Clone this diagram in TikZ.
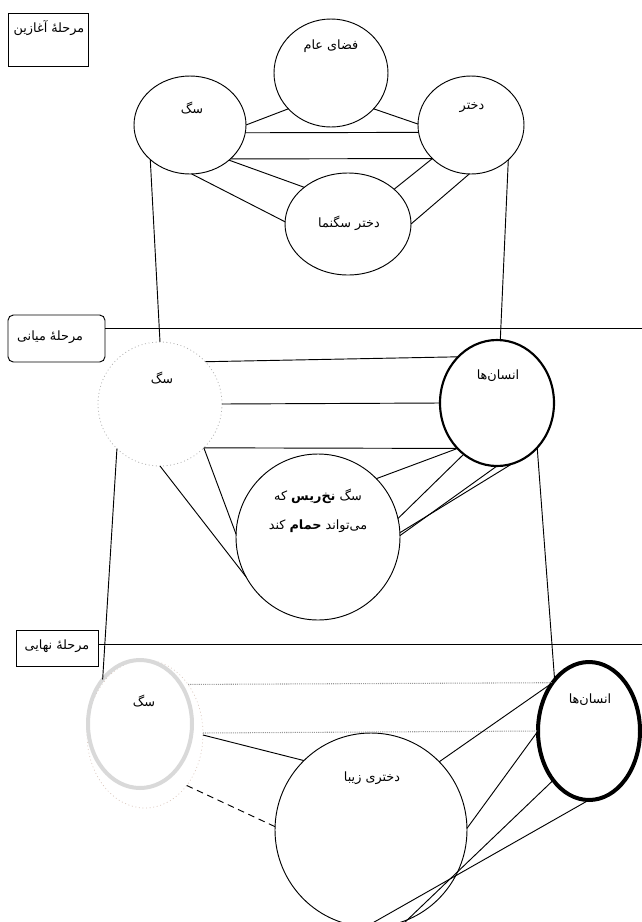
\documentclass[tikz,border=0pt]{standalone}
\usepackage{fontspec}
\usetikzlibrary{shapes.geometric}
\newfontfamily\arabicfont[Script=Arabic]{DejaVu Sans}
\TeXXeTstate=1
\definecolor{faint}{HTML}{D8C4BA}
\tikzset{
  base/.style={inner sep=0pt, outer sep=0pt},
  ln/.style={line width=0.7pt},
  ell/.style 2 args={ellipse, draw, base, ln, minimum width=#1*1.5pt, minimum height=#2*1.5pt},
  boxn/.style 2 args={draw, base, ln, minimum width=#1*0.75pt, minimum height=#2*0.75pt},
  lbl/.style={font=\arabicfont\fontsize{9.6}{11}\selectfont, inner sep=0pt},
  dotl/.style={line width=0.8pt, draw=gray!80, dash pattern=on 0.8pt off 0.8pt},
}
\begin{document}
\begin{tikzpicture}[x=0.75pt, y=-0.75pt]
\useasboundingbox (0,0) rectangle (642,922);
\clip (0,0) rectangle (642,922);
% ---------- top stage ----------
\node[boxn={80}{53}] (st1) at (48.5,39.5) {};
\node[lbl] (t1) at (49,28) {\beginR مرحلهٔ آغازین\endR};
\node[ell={57}{54}] (fa) at (331,73) {};
\node[lbl] (tfa) at (331,46) {\beginR فضای عام\endR};
\node[ell={56}{49}] (sag1) at (190,125) {};
\node[lbl] (tsag1) at (192,108) {\beginR سگ\endR};
\node[ell={53}{49}] (dokh) at (471,125) {};
\node[lbl] (tdokh) at (472,108) {\beginR دختر\endR};
\node[ell={63}{51}] (ds) at (348,224) {};
\node[lbl] (tds) at (349,223) {\beginR دختر سگنما\endR};
\draw[ln] (sag1.0) -- (fa.220.5);
\draw[ln] (fa.-40.5) -- (dokh.179);
\draw[ln] (sag1.-8.3) -- (dokh.188.7);
\draw[ln] (sag1.-40.4) -- (dokh.221.8);
\draw[ln] (sag1.-42) -- (ds.140.7);
\draw[ln] (sag1.-88.8) -- (ds.178);
\draw[ln] (dokh.221.8) -- (ds.37.7);
\draw[ln] (dokh.268.8) -- (ds.0.9);
% ---------- middle stage ----------
\node[boxn={97}{47}, rounded corners=4pt] (st2) at (56.5,338.5) {};
\node[lbl] (t2) at (50,337) {\beginR مرحلهٔ میانی\endR};
\coordinate (e2) at (642,328);
\draw[ln] (st2.east |- e2) -- (e2);
\node[ell={62}{62}, draw=gray!60, dotted, line width=0.6pt] (sag2) at (160,404) {};
\node[lbl] (tsag2) at (162,378) {\beginR سگ\endR};
\node[ell={57}{63}, line width=1.6pt] (ens2) at (497,403) {};
\node[lbl] (tens2) at (498,376) {\beginR انسان‌ها\endR};
\node[ell={82}{83}] (nakh) at (318,537) {};
\node[lbl] (tn1) at (318,496) {\beginR سگ {\bfseries نخ‌ریس} که\endR};
\node[lbl] (tn2) at (318,526) {\beginR می‌تواند {\bfseries حمام} کند\endR};
\draw[ln] (sag1.221.8) -- (sag2.90);
\draw[ln] (dokh.-43.3) -- (ens2.87);
\draw[ln] (sag2.43) -- (ens2.130.3);
\draw[ln] (sag2.0) -- (ens2.180);
\draw[ln] (sag2.-45) -- (ens2.229);
\draw[ln] (sag2.-45) -- (nakh.178.6);
\draw[ln] (sag2.270) -- (nakh.209);
\draw[ln] (ens2.229) -- (nakh.45.5);
\draw[ln] (ens2.237) -- (nakh.13);
\draw[ln] (ens2.270) -- (nakh.1.4);
\draw[ln] (ens2.284) -- (nakh.3);
% ---------- final stage ----------
\node[boxn={82}{36}] (st3) at (57,648.5) {};
\node[lbl] (t3) at (57,646) {\beginR مرحلهٔ نهایی\endR};
\coordinate (e3) at (642,644);
\draw[ln] (st3.east |- e3) -- (e3);
\node[ell={58}{74}, draw=faint, dotted, line width=0.5pt] (sag3o) at (145,734) {};
\node[ell={52}{64}, draw=gray!30, line width=3pt] (sag3) at (140,724) {};
\node[lbl] (tsag3) at (144,701) {\beginR سگ\endR};
\node[ell={51}{69}, line width=3pt] (ens3) at (589,731) {};
\node[lbl] (tens3) at (590,700) {\beginR انسان‌ها\endR};
\node[ell={96}{97}] (ziba) at (371,830) {};
\node[lbl] (tziba) at (372,778) {\beginR دختری زیبا\endR};
\draw[ln] (sag2.226.3) -- (sag3.130.5);
\draw[ln] (ens2.-48.3) -- (ens3.124.7);
\draw[dotl] (sag3o.49.9) -- (ens3.127.2);
\draw[dotl] (sag3o.1) -- (ens3.180);
\draw[ln] (sag3o.-1) -- (ziba.134.6);
\draw[ln, dash pattern=on 5pt off 3.5pt] (sag3o.-51) -- (ziba.178.8);
\draw[ln] (ens3.127.2) -- (ziba.45.8);
\draw[ln] (ens3.180) -- (ziba.1.2);
\coordinate (f1) at (402,925);
\coordinate (f2) at (369,925);
\draw[ln] (ens3.234.4) -- (f1);
\draw[ln] (ens3.270) -- (f2);
\end{tikzpicture}
\end{document}
